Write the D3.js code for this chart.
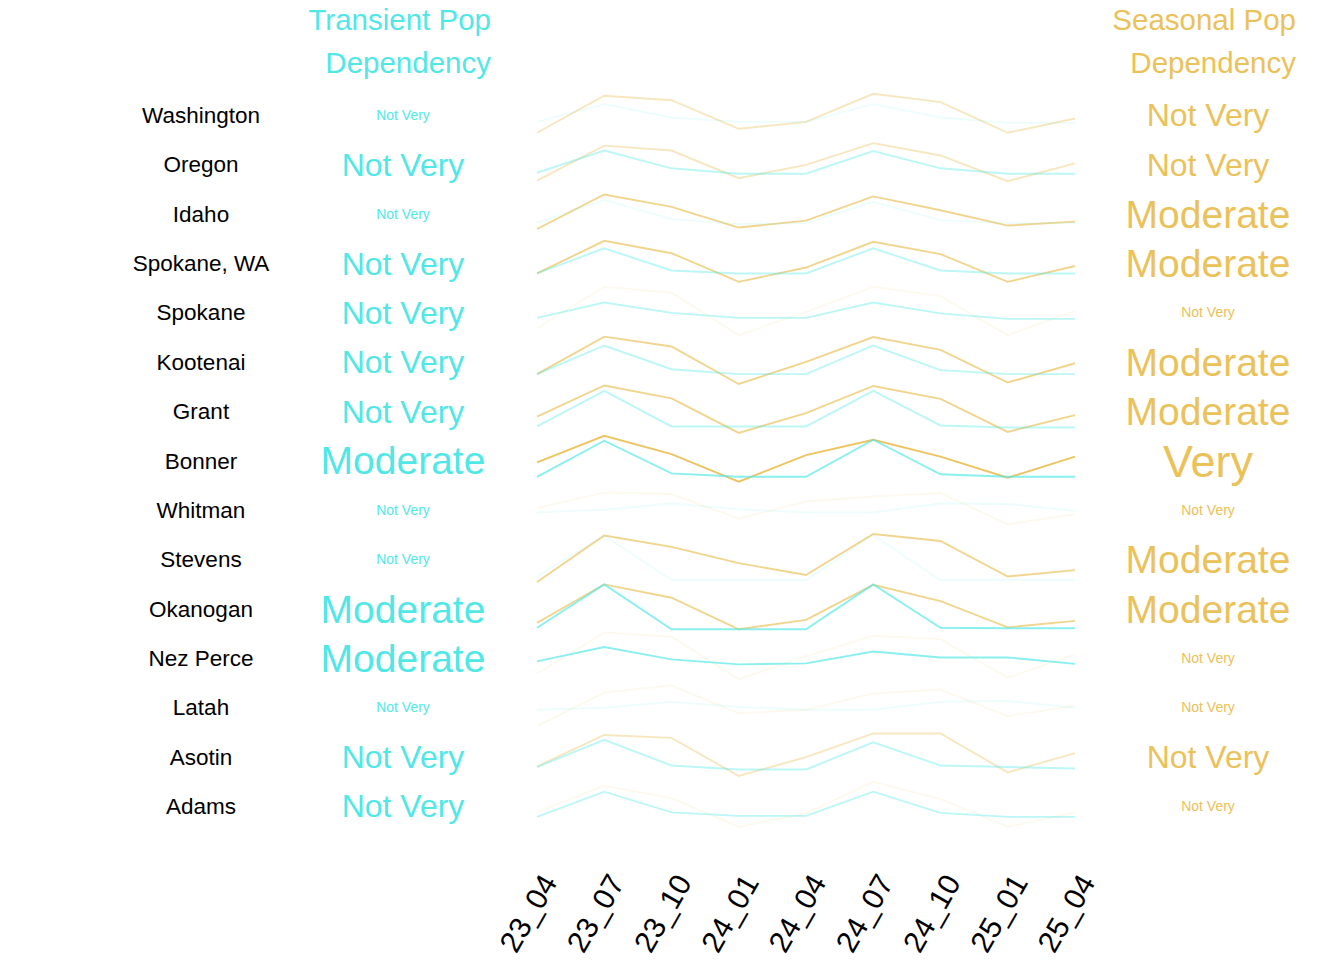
<!DOCTYPE html>
<html>
<head>
<meta charset="utf-8">
<script src="https://cdn.jsdelivr.net/npm/d3@7"></script>
<style>
  body { margin: 0; background: #fff; }
  text { font-family: "Liberation Sans", Arial, sans-serif; }
</style>
</head>
<body>
<svg></svg>
<script>
// quarters on the x axis
var quarters = ["23_04", "23_07", "23_10", "24_01", "24_04", "24_07", "24_10", "25_01", "25_04"];

var regions = ["Washington", "Oregon", "Idaho", "Spokane, WA", "Spokane", "Kootenai", "Grant",
               "Bonner", "Whitman", "Stevens", "Okanogan", "Nez Perce", "Latah", "Asotin", "Adams"];

// dependency label + score (0 = minimal, 1 = not very, 2 = moderate, 3 = very)
var transientLabel = ["Not Very", "Not Very", "Not Very", "Not Very", "Not Very", "Not Very", "Not Very",
                      "Moderate", "Not Very", "Not Very", "Moderate", "Moderate", "Not Very", "Not Very", "Not Very"];
var transientScore = [0, 1, 0, 1, 1, 1, 1, 2, 0, 0, 2, 2, 0, 1, 1];

var seasonalLabel = ["Not Very", "Not Very", "Moderate", "Moderate", "Not Very", "Moderate", "Moderate",
                     "Very", "Not Very", "Moderate", "Moderate", "Not Very", "Not Very", "Not Very", "Not Very"];
var seasonalScore = [1, 1, 2, 2, 0, 2, 2, 3, 0, 2, 2, 0, 0, 1, 0];

// relative trend per region (row units, + is up)
var transientTrend = [
  [-0.14, 0.22, -0.05, -0.14, -0.14, 0.22, -0.05, -0.16, -0.16],
  [-0.17, 0.28, -0.08, -0.19, -0.19, 0.27, -0.08, -0.19, -0.19],
  [-0.18, 0.28, -0.11, -0.21, -0.19, 0.24, -0.13, -0.19, -0.19],
  [-0.21, 0.30, -0.15, -0.21, -0.21, 0.30, -0.15, -0.21, -0.21],
  [-0.11, 0.20, -0.01, -0.11, -0.11, 0.20, -0.02, -0.13, -0.13],
  [-0.25, 0.33, -0.15, -0.25, -0.25, 0.33, -0.17, -0.25, -0.25],
  [-0.31, 0.41, -0.31, -0.31, -0.31, 0.41, -0.29, -0.33, -0.33],
  [-0.33, 0.40, -0.26, -0.33, -0.33, 0.42, -0.28, -0.33, -0.33],
  [-0.05, 0.00, 0.13, 0.01, -0.05, -0.05, 0.13, 0.12, -0.02],
  [-0.35, 0.48, -0.42, -0.42, -0.42, 0.49, -0.42, -0.42, -0.42],
  [-0.39, 0.49, -0.42, -0.42, -0.42, 0.49, -0.39, -0.40, -0.40],
  [-0.07, 0.22, -0.03, -0.13, -0.11, 0.13, 0.01, 0.01, -0.12],
  [-0.05, -0.01, 0.11, 0.01, -0.05, -0.05, 0.11, 0.13, -0.01],
  [-0.21, 0.34, -0.18, -0.26, -0.26, 0.29, -0.18, -0.21, -0.24],
  [-0.22, 0.29, -0.13, -0.20, -0.20, 0.29, -0.14, -0.22, -0.22]
];

var seasonalTrend = [
  [-0.36, 0.39, 0.30, -0.28, -0.14, 0.43, 0.26, -0.36, -0.07],
  [-0.33, 0.38, 0.28, -0.28, -0.01, 0.43, 0.18, -0.34, 0.02],
  [-0.31, 0.39, 0.14, -0.28, -0.14, 0.35, 0.07, -0.24, -0.16],
  [-0.21, 0.45, 0.20, -0.38, -0.09, 0.43, 0.18, -0.38, -0.06],
  [-0.32, 0.52, 0.40, -0.46, 0.01, 0.52, 0.33, -0.46, 0.03],
  [-0.25, 0.51, 0.31, -0.45, 0.00, 0.50, 0.24, -0.42, -0.03],
  [-0.11, 0.52, 0.26, -0.44, -0.04, 0.51, 0.25, -0.42, -0.08],
  [-0.04, 0.50, 0.13, -0.43, 0.11, 0.42, 0.08, -0.35, 0.08],
  [0.04, 0.35, 0.32, -0.18, 0.17, 0.27, 0.34, -0.29, -0.09],
  [-0.46, 0.48, 0.25, -0.08, -0.32, 0.51, 0.37, -0.35, -0.22],
  [-0.29, 0.49, 0.22, -0.42, -0.23, 0.48, 0.15, -0.38, -0.25],
  [-0.32, 0.51, 0.43, -0.43, 0.03, 0.45, 0.38, -0.40, 0.07],
  [-0.38, 0.30, 0.44, -0.12, -0.05, 0.28, 0.36, -0.18, 0.03],
  [-0.20, 0.44, 0.38, -0.39, -0.01, 0.47, 0.47, -0.32, 0.07],
  [-0.12, 0.41, 0.16, -0.42, -0.15, 0.49, 0.14, -0.42, -0.13]
];

var cyan = "#52e7e7";
var gold = "#ebc15a";

var svgWidth = 1344;
var svgHeight = 960;

var svg = d3.select("svg")
   .attr("width", svgWidth)
   .attr("height", svgHeight);

var x = d3.scalePoint().domain(quarters).range([537, 1075]);
var yRow = d3.scalePoint().domain(regions).range([115, 806]);
var yOff = d3.scaleLinear().domain([0, 1]).range([0, -yRow.step()]);

var fontSize = d3.scaleLinear().domain([0, 1, 2, 3]).range([14, 32, 39, 45]);
var lineAlpha = d3.scaleLinear().domain([0, 1, 2, 3]).range([0.1, 0.38, 0.68, 0.95]);

var line = d3.line()
   .x(function(d, i) { return x(quarters[i]); })
   .y(function(d) { return d; });

function drawSeries(trend, score, color) {
  svg.append("g").selectAll("path")
     .data(regions)
     .enter()
     .append("path")
     .attr("fill", "none")
     .attr("stroke", color)
     .attr("stroke-width", 1.9)
     .attr("stroke-opacity", function(d, i) { return lineAlpha(score[i]); })
     .attr("d", function(d, i) {
        return line(trend[i].map(function(v) { return yRow(d) + yOff(v); }));
     });
}

drawSeries(seasonalTrend, seasonalScore, gold);
drawSeries(transientTrend, transientScore, cyan);

// region names
svg.append("g").selectAll("text")
   .data(regions)
   .enter()
   .append("text")
   .attr("x", 201)
   .attr("y", function(d) { return yRow(d) + 0.358 * 22.5; })
   .attr("text-anchor", "middle")
   .attr("font-size", 22.5)
   .attr("fill", "#000")
   .text(function(d) { return d; });

function drawLabels(labels, score, color, cx) {
  svg.append("g").selectAll("text")
     .data(regions)
     .enter()
     .append("text")
     .attr("x", cx)
     .attr("y", function(d, i) { return yRow(d) + 0.358 * fontSize(score[i]); })
     .attr("text-anchor", "middle")
     .attr("font-size", function(d, i) { return fontSize(score[i]); })
     .attr("fill", color)
     .text(function(d, i) { return labels[i]; });
}

drawLabels(transientLabel, transientScore, cyan, 403);
drawLabels(seasonalLabel, seasonalScore, gold, 1208);

// column titles
function title(lines, color, xr) {
  svg.append("text")
     .attr("text-anchor", "end")
     .attr("font-size", 29.5)
     .attr("fill", color)
     .selectAll("tspan")
     .data(lines)
     .enter()
     .append("tspan")
     .attr("x", xr)
     .attr("y", function(d, i) { return 30 + i * 43; })
     .text(function(d) { return d; });
}
title(["Transient Pop", "Dependency"], cyan, 491);
title(["Seasonal Pop", "Dependency"], gold, 1296);

// x axis labels
svg.append("g").selectAll("text")
   .data(quarters)
   .enter()
   .append("text")
   .attr("transform", function(d) { return "translate(" + (x(d) + 12) + ",877) rotate(-60)"; })
   .attr("text-anchor", "end")
   .attr("dy", "0.35em")
   .attr("font-size", 30)
   .attr("fill", "#000")
   .text(function(d) { return d; });
</script>
</body>
</html>
